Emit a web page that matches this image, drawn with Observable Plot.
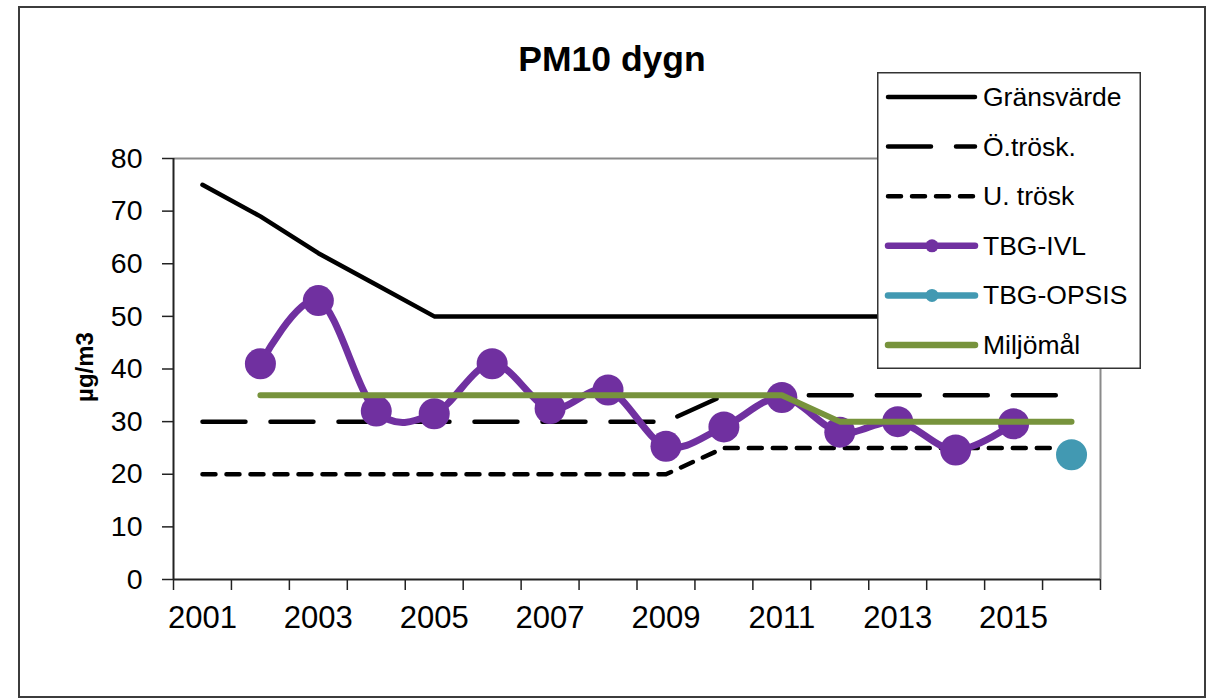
<!DOCTYPE html>
<html>
<head>
<meta charset="utf-8">
<script src="https://cdn.jsdelivr.net/npm/d3@7"></script>
<script src="https://cdn.jsdelivr.net/npm/@observablehq/plot@0.6"></script>
<style>
  html, body { margin: 0; padding: 0; background: #fff; }
  body { width: 1218px; height: 698px; overflow: hidden; font-family: "Liberation Sans", Arial, sans-serif; }
  #wrap { position: relative; width: 1218px; height: 698px; }
  #border { position: absolute; left: 18px; top: 6px; width: 1188px; height: 692px; box-sizing: border-box; border: 2px solid #3c3c3c; pointer-events: none; }
  #title { position: absolute; left: 0; width: 1224px; top: 39px; text-align: center; font-weight: bold; font-size: 35.5px; color: #000; }
  #legend { position: absolute; left: 877px; top: 72px; }
  #chart { position: absolute; left: 0; top: 0; }
</style>
</head>
<body>
<div id="wrap">
  <div id="chart"></div>
  <div id="title">PM10 dygn</div>
  <div id="legend"></div>
  <div id="border"></div>
</div>
<script>
// ---- data ----
const years = [2001, 2002, 2003, 2004, 2005, 2006, 2007, 2008, 2009, 2010, 2011, 2012, 2013, 2014, 2015, 2016];
const gransvarde = [75, 69, 62, 56, 50, 50, 50, 50, 50, 50, 50, 50, 50, 50, 50, 50];
const oTrosk = [30, 30, 30, 30, 30, 30, 30, 30, 30, 35, 35, 35, 35, 35, 35, 35];
const uTrosk = [20, 20, 20, 20, 20, 20, 20, 20, 20, 25, 25, 25, 25, 25, 25, 25];
const ivlYears = [2002, 2003, 2004, 2005, 2006, 2007, 2008, 2009, 2010, 2011, 2012, 2013, 2014, 2015];
const ivl = [41, 53, 32, 31.5, 41, 32.5, 36, 25.3, 29, 34.6, 28, 30, 24.6, 29.6];
const opsisYears = [2016];
const opsis = [23.7];
const miljoYears = [2002, 2003, 2004, 2005, 2006, 2007, 2008, 2009, 2010, 2011, 2012, 2013, 2014, 2015, 2016];
const miljo = [35, 35, 35, 35, 35, 35, 35, 35, 35, 35, 30, 30, 30, 30, 30];
const yTicks = [0, 10, 20, 30, 40, 50, 60, 70, 80];
const xLabelYears = [2001, 2003, 2005, 2007, 2009, 2011, 2013, 2015];
const xBoundaries = [2000.5, 2001.5, 2002.5, 2003.5, 2004.5, 2005.5, 2006.5, 2007.5, 2008.5, 2009.5, 2010.5, 2011.5, 2012.5, 2013.5, 2014.5, 2015.5, 2016.5];
const yLabel = "µg/m3";
const seriesNames = ["Gränsvärde", "Ö.trösk.", "U. trösk", "TBG-IVL", "TBG-OPSIS", "Miljömål"];

const colors = { purple: "#7030A0", teal: "#4299B2", green: "#77933C" };
const dashO = "43,25";
const dashU = "13,11";

const toRows = (xs, vs) => xs.map((x, i) => ({ x, y: vs[i] }));
const gRows = toRows(years, gransvarde);
const oRows = toRows(years, oTrosk);
const uRows = toRows(years, uTrosk);
const ivlRows = toRows(ivlYears, ivl);
const opsisRows = toRows(opsisYears, opsis);
const miljoRows = toRows(miljoYears, miljo);

const xDomain = [xBoundaries[0], xBoundaries[xBoundaries.length - 1]];
const yDomain = [yTicks[0], yTicks[yTicks.length - 1]];

const chart = Plot.plot({
  width: 1218,
  height: 698,
  marginLeft: 173,
  marginRight: 118,
  marginTop: 158,
  marginBottom: 119,
  style: { fontFamily: "'Liberation Sans', Arial, sans-serif", color: "#000", background: "transparent" },
  x: { type: "linear", domain: xDomain },
  y: { domain: yDomain },
  marks: [
    // frame
    Plot.ruleY([yDomain[1]], { stroke: "#8a8a8a", strokeWidth: 2 }),
    Plot.ruleX([xDomain[1]], { stroke: "#8a8a8a", strokeWidth: 2 }),
    // axes
    Plot.axisY({ ticks: yTicks, tickSize: 11, tickPadding: 20, fontSize: 28.5, label: null, stroke: "#222", strokeWidth: 1.5, tickFormat: d => String(d) }),
    Plot.axisX({ ticks: xBoundaries, tickSize: 11, tickFormat: () => "", label: null, stroke: "#222", strokeWidth: 1.5 }),
    Plot.axisX({ ticks: xLabelYears, tickSize: 0, tickPadding: 26, fontSize: 31, label: null, tickFormat: d => String(d) }),
    Plot.ruleY([yDomain[0]], { stroke: "#222", strokeWidth: 2 }),
    Plot.ruleX([xDomain[0]], { stroke: "#222", strokeWidth: 2 }),
    Plot.text([yLabel], { text: d => d, frameAnchor: "left", textAnchor: "middle", dx: -88, dy: -2, rotate: -90, fontSize: 24, fontWeight: "bold", fill: "#000" }),
    // series
    Plot.line(gRows, { x: "x", y: "y", stroke: "#000", strokeWidth: 4.5, strokeLinejoin: "round" }),
    Plot.line(oRows, { x: "x", y: "y", stroke: "#000", strokeWidth: 4.5, strokeDasharray: dashO, strokeLinecap: "round" }),
    Plot.line(uRows, { x: "x", y: "y", stroke: "#000", strokeWidth: 4.5, strokeDasharray: dashU, strokeLinecap: "round" }),
    Plot.line(ivlRows, { x: "x", y: "y", stroke: colors.purple, strokeWidth: 7, curve: "cardinal", strokeLinecap: "round" }),
    Plot.dot(ivlRows, { x: "x", y: "y", r: 15.5, fill: colors.purple }),
    Plot.dot(opsisRows, { x: "x", y: "y", r: 15.5, fill: colors.teal }),
    Plot.line(miljoRows, { x: "x", y: "y", stroke: colors.green, strokeWidth: 6, strokeLinecap: "round" })
  ]
});
document.getElementById("chart").appendChild(chart);

// ---- legend ----
const legendStyles = [
  { stroke: "#000", width: 4.5, dash: null, dot: null },
  { stroke: "#000", width: 4.5, dash: dashO, dot: null },
  { stroke: "#000", width: 4.5, dash: dashU, dot: null },
  { stroke: colors.purple, width: 6.5, dash: null, dot: colors.purple },
  { stroke: colors.teal, width: 6.5, dash: null, dot: colors.teal },
  { stroke: colors.green, width: 6.5, dash: null, dot: null }
];
const ns = "http://www.w3.org/2000/svg";
const lw = 264, lh = 297, rowStep = 49.6, row0 = 25;
const svg = document.createElementNS(ns, "svg");
svg.setAttribute("width", lw);
svg.setAttribute("height", lh);
svg.style.display = "block";
const rect = document.createElementNS(ns, "rect");
rect.setAttribute("x", 0.75); rect.setAttribute("y", 0.75);
rect.setAttribute("width", lw - 1.5); rect.setAttribute("height", lh - 1.5);
rect.setAttribute("fill", "#fff"); rect.setAttribute("stroke", "#333"); rect.setAttribute("stroke-width", 1.5);
svg.appendChild(rect);
seriesNames.forEach((name, i) => {
  const cy = row0 + i * rowStep;
  const s = legendStyles[i];
  const ln = document.createElementNS(ns, "line");
  ln.setAttribute("x1", 11); ln.setAttribute("x2", 98);
  ln.setAttribute("y1", cy); ln.setAttribute("y2", cy);
  ln.setAttribute("stroke", s.stroke); ln.setAttribute("stroke-width", s.width);
  ln.setAttribute("stroke-linecap", "round");
  if (s.dash) ln.setAttribute("stroke-dasharray", s.dash);
  svg.appendChild(ln);
  if (s.dot) {
    const c = document.createElementNS(ns, "circle");
    c.setAttribute("cx", 55); c.setAttribute("cy", cy); c.setAttribute("r", 6.5);
    c.setAttribute("fill", s.dot);
    svg.appendChild(c);
  }
  const t = document.createElementNS(ns, "text");
  t.setAttribute("x", 106); t.setAttribute("y", cy);
  t.setAttribute("dominant-baseline", "central");
  t.setAttribute("font-size", 26.5);
  t.setAttribute("font-family", "'Liberation Sans', Arial, sans-serif");
  t.setAttribute("fill", "#000");
  t.textContent = name;
  svg.appendChild(t);
});
document.getElementById("legend").appendChild(svg);
</script>
</body>
</html>
